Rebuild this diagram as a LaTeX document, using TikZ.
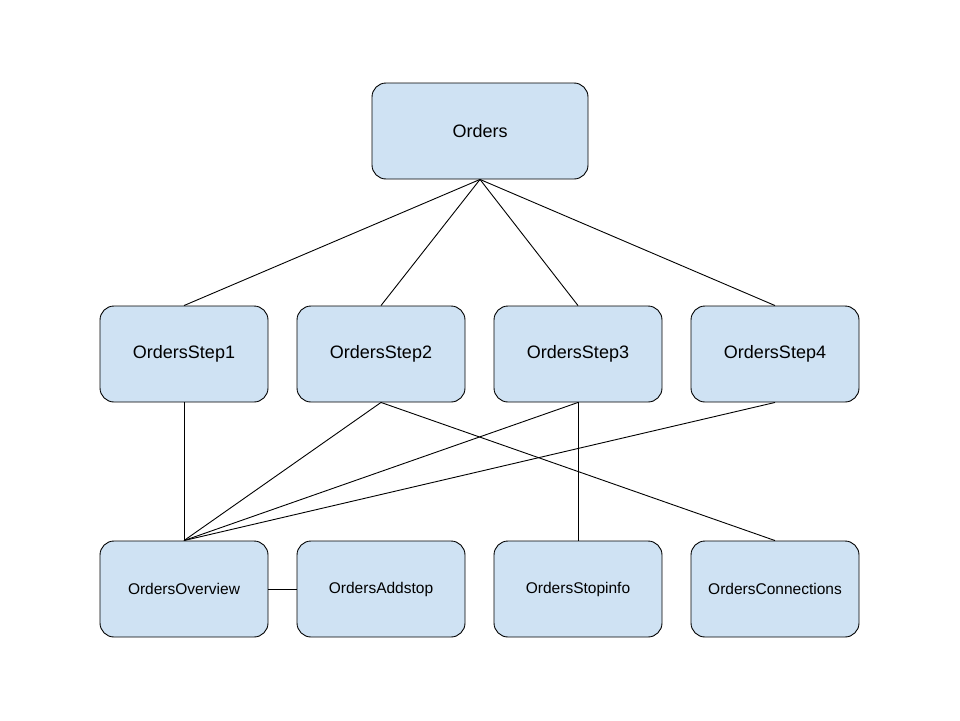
\documentclass[tikz,border=0pt]{standalone}
\usepackage{fontspec}
\setmainfont{Liberation Sans}
\begin{document}
\begin{tikzpicture}[x=1pt,y=-1pt,
  box/.style={draw=black,line width=0.9pt,fill=boxfill,rounded corners=14pt,minimum width=168pt,minimum height=96pt,inner sep=0pt,font=\fontsize{18}{22}\selectfont},
  small/.style={font=\fontsize{15.5}{19}\selectfont},
  link/.style={draw=black,line width=0.9pt}]
\definecolor{boxfill}{HTML}{CFE2F3}
\useasboundingbox (0,0) rectangle (960,720);
\node[box,minimum width=216pt] (orders) at (480,131) {Orders};
\node[box] (s1) at (184,354) {OrdersStep1};
\node[box] (s2) at (381,354) {OrdersStep2};
\node[box] (s3) at (578,354) {OrdersStep3};
\node[box] (s4) at (775,354) {OrdersStep4};
\node[box,small] (ov) at (184,589) {OrdersOverview};
\node[box,small] (ad) at (381,589) {OrdersAddstop};
\node[box,small] (si) at (578,589) {OrdersStopinfo};
\node[box,small] (co) at (775,589) {OrdersConnections};
\foreach \s in {s1,s2,s3,s4} \draw[link] (orders.south) -- (\s.north);
\foreach \s in {s1,s2,s3,s4} \draw[link] (\s.south) -- (ov.north);
\draw[link] (s2.south) -- (co.north);
\draw[link] (s3.south) -- (si.north);
\draw[link] (ov.east) -- (ad.west);
\end{tikzpicture}
\end{document}
